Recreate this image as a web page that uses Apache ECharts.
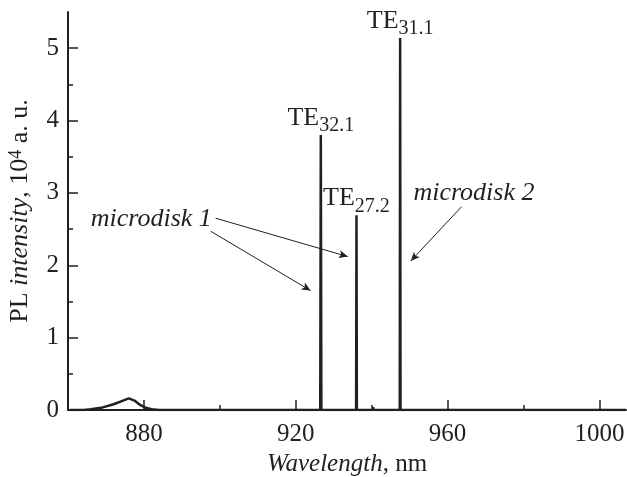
<!DOCTYPE html>
<html>
<head>
<meta charset="utf-8">
<script src="https://cdn.jsdelivr.net/npm/echarts@6/dist/echarts.min.js"></script>
<style>
  html, body { margin: 0; padding: 0; background: #fff; }
  #chart { width: 627px; height: 477px; }
</style>
</head>
<body>
<div id="chart"></div>
<script>
// Spectrum (wavelength in nm, intensity in 10^4 a.u.)
var wavelength = [860.5, 864, 866, 868.7, 872, 874, 876, 877.5, 879, 880.5, 882, 884,
    890, 900, 900.1, 900.2, 906.7, 906.8, 906.9, 917.2, 917.3, 917.4, 924,
    926.45, 926.6, 926.75, 935.9, 936.0, 936.1, 940.3, 940.4, 940.5, 942.0, 942.1, 942.2,
    947.4, 947.5, 947.6, 960, 980, 1007];
var intensity = [0.0, 0.0, 0.01, 0.03, 0.08, 0.12, 0.16, 0.13, 0.07, 0.03, 0.01, 0.0,
    0.0, 0.0, 0.02, 0.0, 0.0, 0.02, 0.0, 0.0, 0.02, 0.0, 0.0,
    0.0, 3.80, 0.0, 0.0, 2.69, 0.0, 0.0, 0.04, 0.0, 0.0, 0.02, 0.0,
    0.0, 5.14, 0.0, 0.0, 0.0, 0.0];

// Mode labels on the peaks
var peakNames = ['32.1', '27.2', '31.1'];
var peakX = [926.6, 936.0, 947.5];
var peakY = [3.80, 2.69, 5.14];

// Axis ticks
var xMajor = [880, 920, 960, 1000];
var xMinor = [900, 940, 980];
var yMajor = [0, 1, 2, 3, 4, 5];
var yMinor = [0.5, 1.5, 2.5, 3.5, 4.5];

// Annotations (data units)
var arrows = [
    [[898.9, 2.65], [933.7, 2.12]],
    [[897.6, 2.47], [923.9, 1.65]],
    [[963.7, 2.81], [950.3, 2.06]]
];
var notes = [
    {text: 'microdisk 1', at: [866.0, 2.64]},
    {text: 'microdisk 2', at: [951.0, 3.0]}
];

var ink = '#231f20';
var font = '"Liberation Serif", "DejaVu Serif", serif';

var spectrum = [];
for (var i = 0; i < wavelength.length; i++) {
    spectrum.push([wavelength[i], intensity[i]]);
}

var peakMarks = [];
for (var j = 0; j < peakX.length; j++) {
    peakMarks.push({coord: [peakX[j], peakY[j]], value: peakNames[j]});
}

var arrowLines = arrows.map(function (a) {
    return [{coord: a[0]}, {coord: a[1]}];
});

var chart = echarts.init(document.getElementById('chart'), null, {renderer: 'canvas'});

var option = {
    animation: false,
    backgroundColor: '#fff',
    textStyle: {fontFamily: font, color: ink},
    grid: {left: 68, right: 1, top: 12, bottom: 67, containLabel: false, outerBoundsMode: 'none'},
    xAxis: [{
        type: 'value',
        min: 860,
        max: 1007,
        position: 'bottom',
        axisLine: {show: true, lineStyle: {color: ink, width: 2}},
        axisTick: {show: true, inside: true, length: 10, customValues: xMajor,
            lineStyle: {color: ink, width: 1.5}},
        axisLabel: {show: true, customValues: xMajor, margin: 12,
            formatter: function (v) { return String(v); },
            fontFamily: font, fontSize: 25, color: ink},
        splitLine: {show: false},
        name: '{i|Wavelength}{n|, nm}',
        nameLocation: 'middle',
        nameGap: 41,
        nameTextStyle: {
            rich: {
                i: {fontFamily: font, fontSize: 25, fontStyle: 'italic', color: ink},
                n: {fontFamily: font, fontSize: 25, color: ink}
            }
        }
    }, {
        type: 'value',
        min: 860,
        max: 1007,
        position: 'bottom',
        axisLine: {show: false},
        axisTick: {show: true, inside: true, length: 5, customValues: xMinor,
            lineStyle: {color: ink, width: 1.5}},
        axisLabel: {show: false},
        splitLine: {show: false}
    }],
    yAxis: [{
        type: 'value',
        min: 0,
        max: 5.5,
        position: 'left',
        axisLine: {show: true, lineStyle: {color: ink, width: 2}},
        axisTick: {show: true, inside: true, length: 10, customValues: yMajor,
            lineStyle: {color: ink, width: 1.5}},
        axisLabel: {show: true, customValues: yMajor, margin: 9,
            fontFamily: font, fontSize: 25, color: ink},
        splitLine: {show: false},
        name: '{n|PL }{i|intensity}{n|, 10}{s|4}{n| a. u.}',
        nameLocation: 'middle',
        nameRotate: 90,
        nameGap: 35,
        nameTextStyle: {
            rich: {
                i: {fontFamily: font, fontSize: 26, fontStyle: 'italic', color: ink},
                n: {fontFamily: font, fontSize: 26, color: ink},
                s: {fontFamily: font, fontSize: 18, color: ink, verticalAlign: 'top'}
            }
        }
    }, {
        type: 'value',
        min: 0,
        max: 5.5,
        position: 'left',
        axisLine: {show: false},
        axisTick: {show: true, inside: true, length: 5, customValues: yMinor,
            lineStyle: {color: ink, width: 1.5}},
        axisLabel: {show: false},
        splitLine: {show: false}
    }],
    series: [{
        name: 'PL',
        type: 'line',
        xAxisIndex: 0,
        yAxisIndex: 0,
        data: spectrum,
        showSymbol: false,
        smooth: false,
        lineStyle: {color: ink, width: 2.5},
        markPoint: {
            silent: true,
            symbol: 'circle',
            symbolSize: 0,
            data: peakMarks,
            label: {
                show: true,
                position: 'top',
                distance: 4,
                formatter: function (p) {
                    return '{n|TE}{s|' + p.value + '}';
                },
                rich: {
                    n: {fontFamily: font, fontSize: 26, color: ink, verticalAlign: 'bottom'},
                    s: {fontFamily: font, fontSize: 20, color: ink, verticalAlign: 'bottom',
                        padding: [0, 0, -5, 0]}
                }
            }
        },
        markLine: {
            silent: true,
            symbol: ['none', 'arrow'],
            symbolSize: [6, 9],
            label: {show: false},
            lineStyle: {color: ink, width: 1, type: 'solid'},
            data: arrowLines
        }
    }]
};

chart.setOption(option);

// Italic notes, placed from data coordinates
var graphics = notes.map(function (n) {
    var p = chart.convertToPixel({xAxisIndex: 0, yAxisIndex: 0}, n.at);
    return {
        type: 'text',
        x: p[0],
        y: p[1],
        style: {
            text: n.text,
            fontFamily: font,
            fontSize: 26,
            fontStyle: 'italic',
            fill: ink,
            textAlign: 'left',
            textVerticalAlign: 'middle'
        }
    };
});
chart.setOption({graphic: graphics});

window.onresize = function () {
    setTimeout(function () {
        chart.resize();
    }, 200);
};
</script>
</body>
</html>
